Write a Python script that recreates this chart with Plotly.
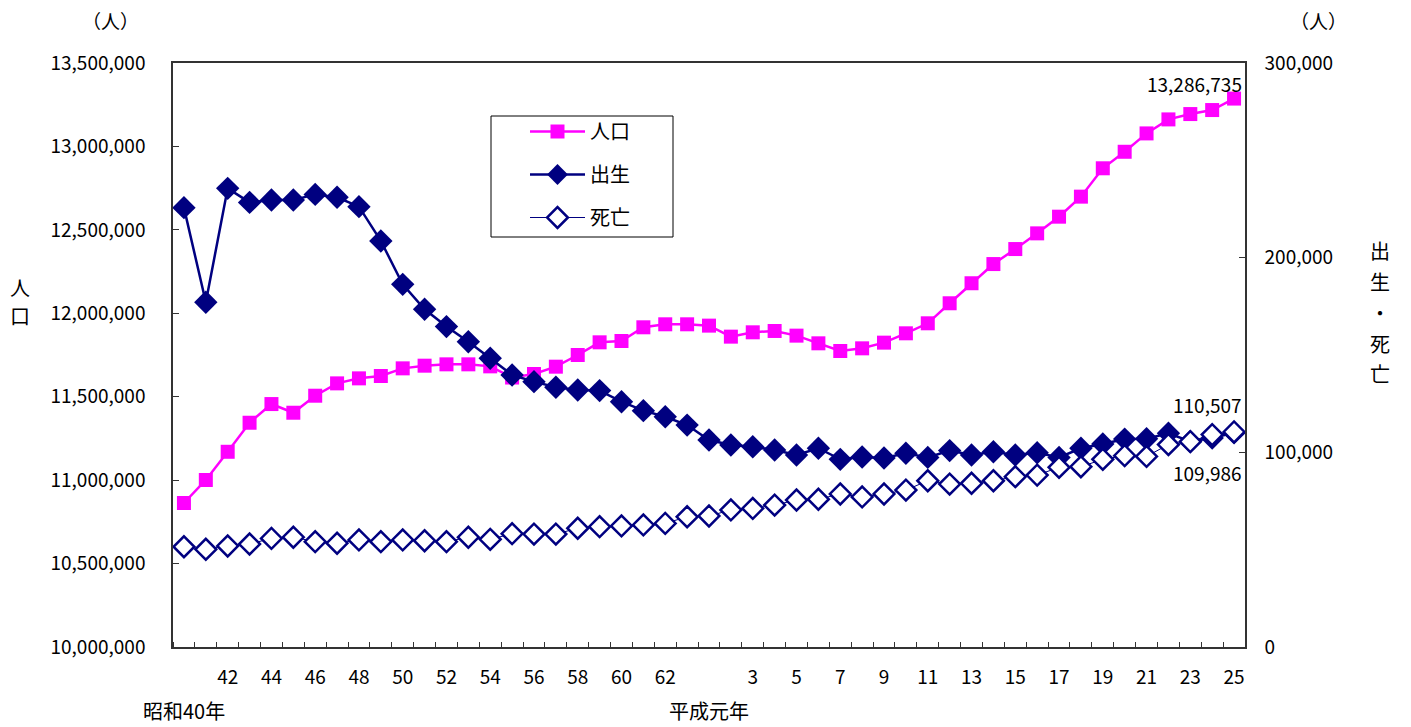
import plotly.graph_objects as go

# Year categories: 昭和40年 (1965) ... 昭和63年, 平成元年 ... 平成25年
showa_years = list(range(40, 64))
heisei_years = list(range(1, 26))
categories = [f"昭和{y}年" for y in showa_years] + ["平成元年"] + [f"平成{y}年" for y in heisei_years[1:]]

# x tick labels (first row)
tick_idx = [2, 4, 6, 8, 10, 12, 14, 16, 18, 20, 22, 26, 28, 30, 32, 34, 36, 38, 40, 42, 44, 46, 48]
tick_text = ["42", "44", "46", "48", "50", "52", "54", "56", "58", "60", "62",
             "3", "5", "7", "9", "11", "13", "15", "17", "19", "21", "23", "25"]
# second-row era labels
era_idx = [0, 24]
era_text = ["昭和40年", "平成元年"]

population = [10863000, 11001000, 11170000, 11344000, 11456000, 11404000, 11506000, 11580000,
              11610000, 11624000, 11670000, 11686000, 11694000, 11694000, 11682000, 11615000,
              11636000, 11680000, 11750000, 11826000, 11834000, 11916000, 11934000, 11934000,
              11926000, 11860000, 11886000, 11894000, 11866000, 11820000, 11774000, 11790000,
              11824000, 11880000, 11940000, 12060000, 12180000, 12295000, 12385000, 12479000,
              12579000, 12699000, 12869000, 12968000, 13078000, 13162000, 13194000, 13218000,
              13286735]
births = [225700, 177100, 235600, 228400, 229600, 229600, 232500, 231000, 226200, 208600,
          186300, 173500, 164600, 156800, 148300, 139700, 136300, 133400, 132000, 131700,
          126000, 121400, 118300, 114000, 106300, 103800, 102900, 101200, 98600, 102100,
          96400, 97600, 97100, 99500, 97400, 100900, 98600, 100300, 98600, 99800,
          97400, 102100, 104300, 106800, 107000, 109800, 105600, 107400, 109986]
deaths = [51500, 50200, 51900, 52900, 55800, 56400, 54100, 53300, 55000, 54100,
          55000, 54600, 54100, 56400, 55300, 58200, 58000, 58000, 61000, 61800,
          62200, 62700, 63500, 66900, 67300, 70400, 71200, 72900, 75500, 75900,
          78600, 77100, 78600, 80600, 85400, 83700, 84100, 85400, 87500, 88300,
          92300, 92600, 96400, 98300, 97900, 104000, 105500, 109100, 110507]

n = len(categories)
x = list(range(n))
FONT = "Noto Sans CJK JP"
PINK = "#FF00FF"
NAVY = "#000080"

# plot area in page pixels (page body has an 8px margin)
PL, PR, PT, PB = 173, 1245, 63, 647
OFF = 8


def px(xp):
    return (xp - PL) / (PR - PL)


def py(yp):
    return (PB - yp) / (PB - PT)


fig = go.Figure()
fig.add_trace(go.Scatter(
    x=x, y=population, name="人口", mode="lines+markers", customdata=categories,
    line=dict(color=PINK, width=2.5),
    marker=dict(symbol="square", size=14, color=PINK),
    legendgroup="a", yaxis="y"))
fig.add_trace(go.Scatter(
    x=x, y=births, name="出生", mode="lines+markers", customdata=categories,
    line=dict(color=NAVY, width=2.5),
    marker=dict(symbol="diamond", size=18, color=NAVY),
    legendgroup="b", yaxis="y2"))
fig.add_trace(go.Scatter(
    x=x, y=deaths, name="死亡", mode="lines+markers", customdata=categories,
    line=dict(color=NAVY, width=1),
    marker=dict(symbol="diamond", size=16, color="white", line=dict(color=NAVY, width=2.5)),
    legendgroup="c", yaxis="y2"))

txt = dict(size=19, family=FONT, color="black")
annotations = []
for i, t in zip(era_idx, era_text):
    annotations.append(dict(x=i, y=py(710), xref="x", yref="paper", text=t, showarrow=False,
                            yanchor="middle", font=dict(size=20, family=FONT, color="black")))
annotations += [
    dict(x=n - 1, y=population[-1], xref="x", yref="y", text=f"{population[-1]:,}",
         showarrow=False, xanchor="right", yanchor="middle", xshift=10, yshift=15, font=txt),
    dict(x=n - 1, y=deaths[-1], xref="x", yref="y2", text=f"{deaths[-1]:,}",
         showarrow=False, xanchor="right", yanchor="middle", xshift=10, yshift=27, font=txt),
    dict(x=n - 1, y=births[-1], xref="x", yref="y2", text=f"{births[-1]:,}",
         showarrow=False, xanchor="right", yanchor="middle", xshift=10, yshift=-40, font=txt),
    dict(x=px(110), y=py(20), xref="paper", yref="paper", text="（人）", showarrow=False,
         xanchor="center", yanchor="middle", font=txt),
    dict(x=px(1318), y=py(20), xref="paper", yref="paper", text="（人）", showarrow=False,
         xanchor="center", yanchor="middle", font=txt),
]
for ch, yp in zip(["人", "口"], [287, 315]):
    annotations.append(dict(x=px(20), y=py(yp), xref="paper", yref="paper", text=ch,
                            showarrow=False, xanchor="center", yanchor="middle",
                            font=dict(size=20, family=FONT, color="black")))
for ch, yp in zip(["出", "生", "・", "死", "亡"], [250, 281, 312, 343, 373]):
    annotations.append(dict(x=px(1380), y=py(yp), xref="paper", yref="paper", text=ch,
                            showarrow=False, xanchor="center", yanchor="middle",
                            font=dict(size=20, family=FONT, color="black")))

# legend frame (wider than plotly's automatic legend box)
shapes = [dict(type="rect", xref="paper", yref="paper", x0=px(491), x1=px(673),
               y0=py(237), y1=py(116), line=dict(color="black", width=1),
               fillcolor="white", layer="below")]

fig.update_layout(
    width=1411, height=727,
    margin=dict(l=PL - OFF, r=1411 - PR + OFF, t=PT - OFF, b=727 - PB + OFF),
    paper_bgcolor="white", plot_bgcolor="white",
    font=dict(family=FONT, size=19, color="black"),
    showlegend=True,
    legend=dict(x=px(525), y=py(112), xanchor="left", yanchor="top",
                bgcolor="rgba(0,0,0,0)", borderwidth=0,
                font=dict(size=20, family=FONT), tracegroupgap=14, itemwidth=55),
    xaxis=dict(range=[-0.5, n - 0.5], tickmode="array", tickvals=tick_idx, ticktext=tick_text,
               ticks="", showgrid=False, zeroline=False, showline=True, linecolor="#333",
               linewidth=1.5, mirror=True, ticklabelstandoff=12,
               minor=dict(ticks="inside", tick0=-0.5, dtick=1, ticklen=5, tickcolor="#333", showgrid=False),
               tickfont=dict(size=19, family=FONT)),
    yaxis=dict(range=[10000000, 13500000], dtick=500000, tickformat=",", ticks="inside",
               ticklen=6, tickcolor="#333", showgrid=False, zeroline=False, showline=True,
               linecolor="#333", linewidth=1.5, ticklabelstandoff=22,
               tickfont=dict(size=19, family=FONT)),
    yaxis2=dict(range=[0, 300000], dtick=100000, tickformat=",", ticks="inside", ticklen=6,
                tickcolor="#333", overlaying="y", side="right", showgrid=False, zeroline=False,
                showline=True, linecolor="#333", linewidth=1.5, ticklabelstandoff=14,
                tickfont=dict(size=19, family=FONT)),
    shapes=shapes,
    annotations=annotations,
)

fig.write_html("out.html")
